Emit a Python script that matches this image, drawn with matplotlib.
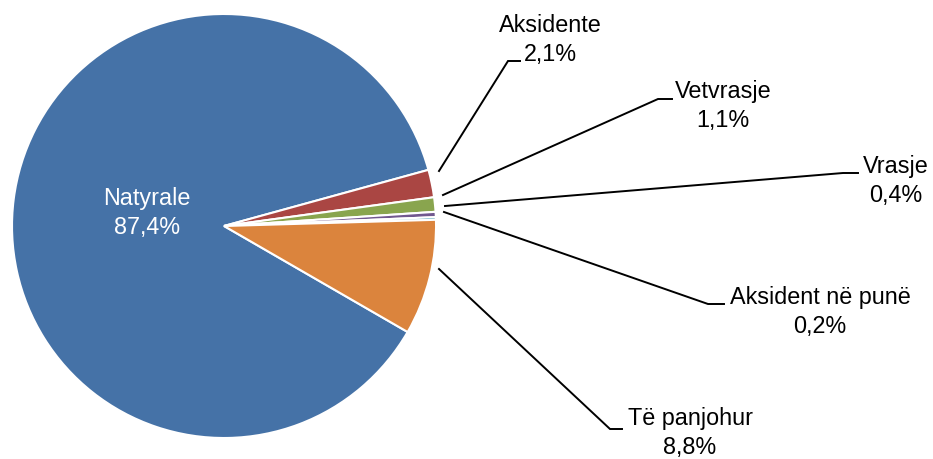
import matplotlib
matplotlib.use('Agg')
import matplotlib.pyplot as plt

labels = ['Natyrale', 'Aksidente', 'Vetvrasje', 'Vrasje', 'Aksident në punë', 'Të panjohur']
values = [87.4, 2.1, 1.1, 0.4, 0.2, 8.8]
colors = ['#4572A7', '#AA4643', '#89A54E', '#71588F', '#4198AF', '#DB843D']

W, H = 933, 459
cx, cy, r = 224, H - 226, 212

fig = plt.figure(figsize=(W / 100, H / 100), dpi=100)
ax = fig.add_axes([0, 0, 1, 1])

explode = [0] + [0.04] * 5
wedges, _ = ax.pie(values, colors=colors, startangle=-30, counterclock=False,
                   center=(cx, cy), radius=r, explode=explode,
                   wedgeprops=dict(edgecolor='white', linewidth=1.5))
ax.set_xlim(0, W)
ax.set_ylim(0, H)
ax.set_aspect('equal')
ax.axis('off')

font = dict(family=['Liberation Sans', 'DejaVu Sans'], fontsize=16.8)

def pct(v):
    return f'{v:.1f}%'.replace('.', ',')

# Natyrale label inside
ax.text(147, H - 213, f'{labels[0]}\n{pct(values[0])}', color='white',
        ha='center', va='center', linespacing=1.3, **font)

# outside labels: (text x, text y, line start (slice edge), elbow, line end)
outside = [
    (550, 40, (439, 171), (508, 61), (520, 61)),
    (723, 106, (443, 195), (658, 99), (672, 99)),
    (896, 181, (445, 206), (843, 173), (858, 173)),
    (820, 312, (444, 212), (708, 304), (724, 304)),
    (690, 433, (439, 269), (610, 429), (622, 429)),
]
for (tx, ty, p0, p1, p2), lab, v in zip(outside, labels[1:], values[1:]):
    ax.plot([p0[0], p1[0], p2[0]], [H - p0[1], H - p1[1], H - p2[1]],
            color='black', lw=1.4, solid_joinstyle='miter')
    ax.text(tx, H - ty, f'{lab}\n{pct(v)}', color='black', ha='center',
            va='center', linespacing=1.3, **font)

fig.savefig('out.png', dpi=100)
